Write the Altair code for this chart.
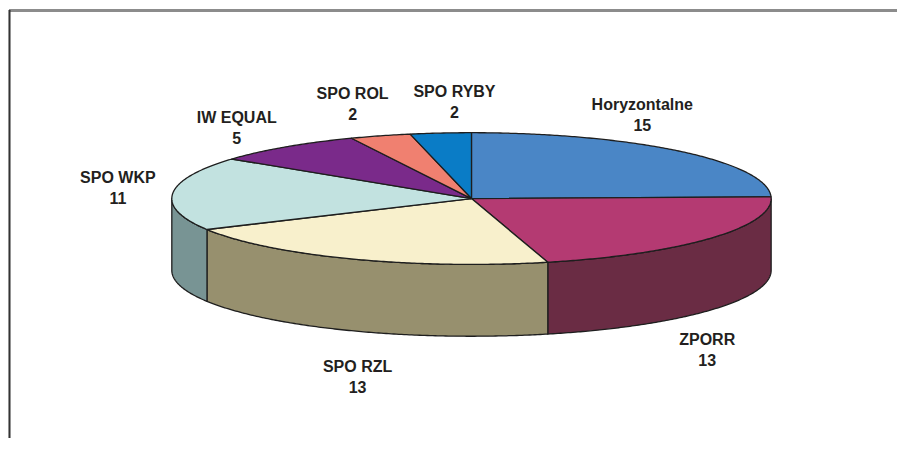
import altair as alt
import numpy as np
import pandas as pd

# ---- data ----
categories = ["Horyzontalne", "ZPORR", "SPO RZL", "SPO WKP", "IW EQUAL", "SPO ROL", "SPO RYBY"]
values = [15, 13, 13, 11, 5, 2, 2]
top_colors = ["#4a86c6", "#b43a72", "#f8f0cc", "#c2e2e0", "#7a2a8a", "#f08070", "#0a7cc6"]
side_colors = ["#2f5a86", "#6a2c44", "#97906e", "#789494", "#4e1a5a", "#a05448", "#06528a"]

# ---- layout (page pixels) ----
W, H = 889, 430
CX, CY, RX, RY, DEPTH = 472, 199, 300, 66, 72
label_pos = [(643, 105), (708, 341), (358, 368), (118, 178), (237, 118), (353, 94), (455, 92)]
LINE_GAP = 21

vals = np.array(values, dtype=float)
ends = np.cumsum(vals) / vals.sum() * 360.0
starts = np.concatenate([[0.0], ends[:-1]])


def pt(deg, dy=0.0):
    r = np.radians(deg)
    return CX + RX * np.sin(r), CY - RY * np.cos(r) + dy


top_rows, side_rows = [], []
for k, (a, b) in enumerate(zip(starts, ends)):
    pts = [(CX, CY)]
    for t in np.linspace(a, b, max(int((b - a) * 2), 4)):
        pts.append(pt(t))
    pts.append((CX, CY))
    for i, (x, y) in enumerate(pts):
        top_rows.append({"id": f"t{k}", "i": i, "x": x, "y": y, "color": top_colors[k]})
    lo, hi = max(a, 90.0), min(b, 270.0)
    if lo < hi:
        arc = np.linspace(lo, hi, max(int((hi - lo) * 2), 4))
        spts = [pt(t) for t in arc] + [pt(t, DEPTH) for t in arc[::-1]]
        spts.append(spts[0])
        for i, (x, y) in enumerate(spts):
            side_rows.append({"id": f"s{k}", "i": i, "x": x, "y": y, "color": side_colors[k]})

tops = pd.DataFrame(top_rows)
sides = pd.DataFrame(side_rows)

labels = pd.DataFrame({
    "name": categories,
    "val": [str(v) for v in values],
    "lx": [p[0] for p in label_pos],
    "ly": [p[1] for p in label_pos],
})
labels["vy"] = labels["ly"] + LINE_GAP

xs = alt.Scale(domain=[8, 8 + W], nice=False, zero=False)
ys = alt.Scale(domain=[8, 8 + H], nice=False, zero=False, reverse=True)


def poly(df):
    return alt.Chart(df).mark_line(
        stroke="#1e1e1e", strokeWidth=1.3, strokeJoin="round", interpolate="linear"
    ).encode(
        x=alt.X("x:Q", scale=xs, axis=None),
        y=alt.Y("y:Q", scale=ys, axis=None),
        detail="id:N",
        order="i:Q",
        fill=alt.Fill("color:N", scale=None, legend=None),
    )


txt_style = dict(font="Liberation Sans", fontWeight="bold", fontSize=16,
                 color="#231f20", align="center", baseline="middle")

names = alt.Chart(labels).mark_text(**txt_style).encode(
    x=alt.X("lx:Q", scale=xs, axis=None), y=alt.Y("ly:Q", scale=ys, axis=None), text="name:N")
nums = alt.Chart(labels).mark_text(**txt_style).encode(
    x=alt.X("lx:Q", scale=xs, axis=None), y=alt.Y("vy:Q", scale=ys, axis=None), text="val:N")

frame_top = alt.Chart(labels).mark_rule(color="#8c8c8c", strokeWidth=2).encode(
    x=alt.value(1), x2=alt.value(W), y=alt.value(2.5))
frame_left = alt.Chart(labels).mark_rule(color="#333333", strokeWidth=1.2).encode(
    x=alt.value(1.5), y=alt.value(2), y2=alt.value(H))

chart = alt.layer(poly(sides), poly(tops), names, nums, frame_top, frame_left).properties(
    width=W, height=H, padding=0,
    autosize=alt.AutoSizeParams(type="fit", contains="padding"),
).configure_view(strokeWidth=0)

chart.save("out.html", embed_options={"renderer": "svg", "actions": False})
